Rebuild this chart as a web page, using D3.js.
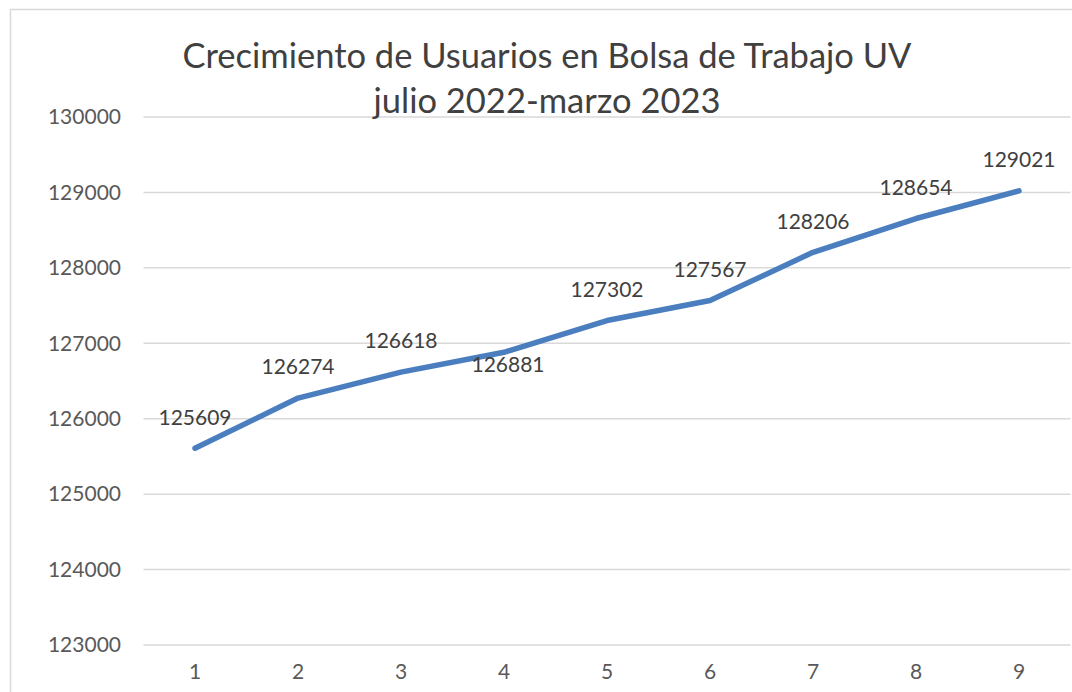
<!DOCTYPE html>
<html>
<head>
<meta charset="utf-8">
<script src="https://cdn.jsdelivr.net/npm/d3@7"></script>
<style>
  html, body { margin: 0; padding: 0; background: #fff; }
  text { font-family: Lato, "Open Sans", sans-serif; }
</style>
</head>
<body>
<div id="canvas"></div>
<script>
// chart data
const months = [1, 2, 3, 4, 5, 6, 7, 8, 9];
const users = [125609, 126274, 126618, 126881, 127302, 127567, 128206, 128654, 129021];
const yTicks = [123000, 124000, 125000, 126000, 127000, 128000, 129000, 130000];
const titleLines = ["Crecimiento de Usuarios en Bolsa de Trabajo UV", "julio 2022-marzo 2023"];
const labelsBelow = [4]; // month whose label sits under the line

const width = 1072;
const height = 692;
const svg = d3.select("#canvas")
    .append("svg")
    .attr("width", width)
    .attr("height", height);

// chart frame (runs off the right and bottom edge)
svg.append("rect")
    .attr("x", 10.5).attr("y", 9.5)
    .attr("width", 1074).attr("height", 700)
    .attr("fill", "none")
    .attr("stroke", "#d9d9d9")
    .attr("stroke-width", 1.5);

const x = d3.scaleBand()
    .domain(months)
    .range([143.5, 1070.5]);

const y = d3.scaleLinear()
    .domain([123000, 130000])
    .range([645, 117]);

// gridlines
svg.append("g")
    .selectAll("line")
    .data(yTicks)
    .join("line")
    .attr("x1", x.range()[0])
    .attr("x2", x.range()[1])
    .attr("y1", d => y(d))
    .attr("y2", d => y(d))
    .attr("stroke", "#d9d9d9")
    .attr("stroke-width", 1.5);

// y axis labels
const yAxis = svg.append("g")
    .attr("transform", `translate(121,0)`)
    .call(d3.axisLeft(y).tickValues(yTicks).tickSize(0).tickPadding(0).tickFormat(d3.format("d")));
yAxis.select(".domain").remove();
yAxis.selectAll("text")
    .attr("fill", "#595959")
    .style("font-size", "21px")
    .style("font-family", "Lato, sans-serif");

// x axis labels
const xAxis = svg.append("g")
    .attr("transform", `translate(0,664)`)
    .call(d3.axisBottom(x).tickSize(0).tickPadding(0));
xAxis.select(".domain").remove();
xAxis.selectAll("text")
    .attr("fill", "#595959")
    .style("font-size", "21px")
    .style("font-family", "Lato, sans-serif");

// the series line
const cx = d => x(d) + x.bandwidth() / 2;
const line = d3.line()
    .x((d, i) => cx(months[i]))
    .y(d => y(d));

svg.append("path")
    .datum(users)
    .attr("d", line)
    .attr("fill", "none")
    .attr("stroke", "#4a7ebf")
    .attr("stroke-width", 5.5)
    .attr("stroke-linecap", "round")
    .attr("stroke-linejoin", "round");

// data labels
svg.append("g")
    .selectAll("text")
    .data(users)
    .join("text")
    .attr("x", (d, i) => cx(months[i]) + (labelsBelow.includes(months[i]) ? 4 : 0))
    .attr("y", (d, i) => y(d) + (labelsBelow.includes(months[i]) ? 12 : -31))
    .attr("dy", "0.35em")
    .attr("text-anchor", "middle")
    .attr("fill", "#404040")
    .style("font-size", "21px")
    .text(d => d);

// title
svg.append("g")
    .selectAll("text")
    .data(titleLines)
    .join("text")
    .attr("x", 547)
    .attr("y", (d, i) => 56 + i * 45)
    .attr("dy", "0.35em")
    .attr("text-anchor", "middle")
    .attr("fill", "#404040")
    .style("font-size", "34.5px")
    .text(d => d);
</script>
</body>
</html>
